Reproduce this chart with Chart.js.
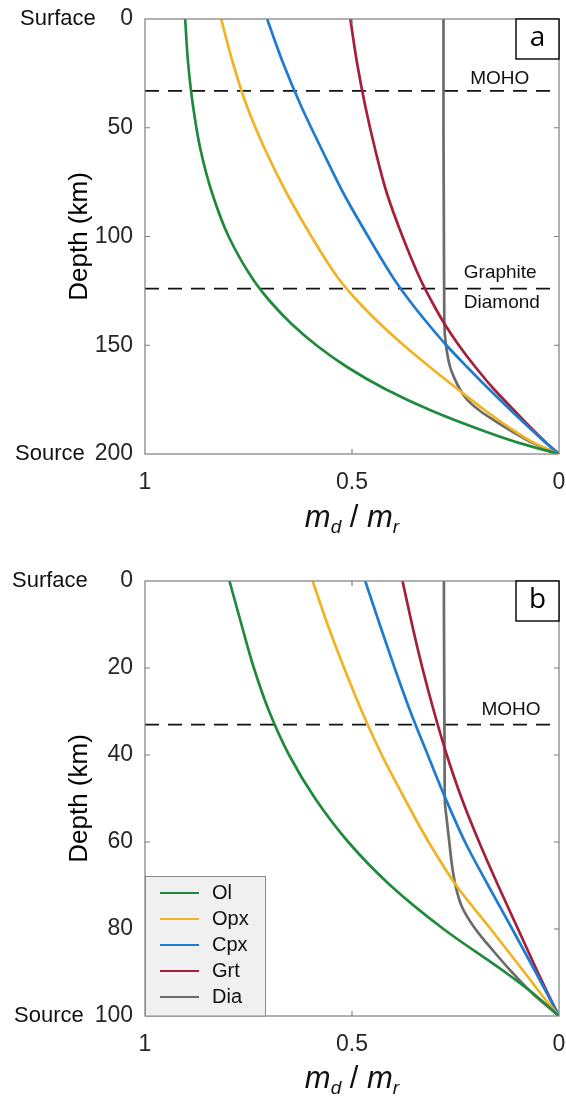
<!DOCTYPE html>
<html>
<head>
<meta charset="utf-8">
<script src="https://cdn.jsdelivr.net/npm/chart.js@4/dist/chart.umd.min.js"></script>
<style>
  html, body { margin: 0; padding: 0; background: #fff; }
  canvas { display: block; }
</style>
</head>
<body>
<canvas id="chartA" width="566" height="560"></canvas>
<canvas id="chartB" width="566" height="537"></canvas>
<script>
// ---- panel a: depth 0-200 km ----
var depthA = [0, 20, 40, 60, 80, 100, 120, 130, 140, 150, 160, 170, 180, 190, 195, 200];
var olA  = [0.903, 0.896, 0.884, 0.866, 0.838, 0.798, 0.738, 0.697, 0.647, 0.586, 0.512, 0.421, 0.309, 0.173, 0.095, 0];
var opxA = [0.816, 0.788, 0.754, 0.710, 0.658, 0.598, 0.530, 0.485, 0.433, 0.375, 0.312, 0.246, 0.178, 0.103, 0.059, 0];
var cpxA = [0.705, 0.667, 0.623, 0.573, 0.521, 0.461, 0.397, 0.359, 0.317, 0.272, 0.222, 0.170, 0.116, 0.060, 0.031, 0];
var grtA = [0.504, 0.488, 0.468, 0.444, 0.416, 0.378, 0.334, 0.307, 0.277, 0.242, 0.202, 0.158, 0.108, 0.057, 0.030, 0];
var diaDepthA = [0, 50, 100, 140, 150, 160, 165, 170, 175, 180, 185, 190, 195, 200];
var diaA      = [0.279, 0.279, 0.278, 0.277, 0.273, 0.263, 0.253, 0.240, 0.222, 0.192, 0.153, 0.110, 0.063, 0];

// ---- panel b: depth 0-100 km ----
var depthB = [0, 10, 20, 30, 40, 50, 60, 70, 80, 90, 95, 100];
var olB  = [0.796, 0.767, 0.737, 0.700, 0.652, 0.589, 0.509, 0.407, 0.279, 0.129, 0.060, 0];
var opxB = [0.595, 0.559, 0.519, 0.476, 0.428, 0.373, 0.315, 0.248, 0.165, 0.083, 0.043, 0];
var cpxB = [0.468, 0.433, 0.397, 0.359, 0.317, 0.274, 0.227, 0.171, 0.113, 0.056, 0.028, 0];
var grtB = [0.378, 0.355, 0.330, 0.302, 0.271, 0.235, 0.193, 0.147, 0.099, 0.051, 0.026, 0];
var diaDepthB = [0, 50, 55, 60, 65, 70, 75, 80, 85, 90, 95, 100];
var diaB      = [0.278, 0.276, 0.271, 0.265, 0.259, 0.250, 0.234, 0.202, 0.159, 0.113, 0.062, 0];

var mineralNames = ['Ol', 'Opx', 'Cpx', 'Grt', 'Dia'];
var mineralColors = ['#1f8a3c', '#efb324', '#1f7bcf', '#a51f3a', '#6b6b6b'];
var xTickLabels = { 0: '0', 0.5: '0.5', 1: '1' };

var mohoDepth = 33;
var graphiteDepth = 124;

var FONT = '"Liberation Sans", Arial, sans-serif';

function pairs(xs, ys) {
  return xs.map(function(v, i) { return { x: v, y: ys[i] }; });
}

function curve(i, depths, vals) {
  return {
    label: mineralNames[i],
    data: pairs(vals, depths),
    borderColor: mineralColors[i],
    backgroundColor: mineralColors[i],
    borderWidth: 2.7,
    pointRadius: 0,
    cubicInterpolationMode: 'monotone',
    fill: false
  };
}

function dashed(depth) {
  return {
    label: '_hline',
    data: [{ x: 1, y: depth }, { x: 0, y: depth }],
    borderColor: '#111',
    borderWidth: 1.7,
    borderDash: [14, 9],
    pointRadius: 0,
    tension: 0,
    fill: false
  };
}

// 框線、內側刻度、標題、註記與圖例
var decorPlugin = {
  id: 'decor',
  afterDraw: function(chart, args, o) {
    var ctx = chart.ctx, a = chart.chartArea;
    var xs = chart.scales.x, ys = chart.scales.y;
    ctx.save();

    ctx.strokeStyle = '#7d7d7d';
    ctx.lineWidth = 1.2;
    ctx.strokeRect(a.left, a.top, a.right - a.left, a.bottom - a.top);
    ctx.beginPath();
    ys.ticks.forEach(function(t) {
      if (t.value === ys.min || t.value === ys.max) return;
      var y = ys.getPixelForValue(t.value);
      ctx.moveTo(a.left, y); ctx.lineTo(a.left + 5, y);
      ctx.moveTo(a.right, y); ctx.lineTo(a.right - 5, y);
    });
    xs.ticks.forEach(function(t) {
      if (t.value === xs.min || t.value === xs.max) return;
      var x = xs.getPixelForValue(t.value);
      ctx.moveTo(x, a.top); ctx.lineTo(x, a.top + 5);
      ctx.moveTo(x, a.bottom); ctx.lineTo(x, a.bottom - 5);
    });
    ctx.stroke();

    // Surface / Source
    ctx.fillStyle = '#111';
    ctx.font = '22px ' + FONT;
    ctx.textAlign = 'left';
    ctx.textBaseline = 'middle';
    ctx.fillText('Surface', o.surfaceX, ys.getPixelForValue(ys.min));
    ctx.fillText('Source', o.sourceX, ys.getPixelForValue(ys.max));

    // y title
    ctx.save();
    ctx.translate(80, (a.top + a.bottom) / 2);
    ctx.rotate(-Math.PI / 2);
    ctx.textAlign = 'center';
    ctx.font = '26px ' + FONT;
    ctx.fillStyle = '#000';
    ctx.fillText('Depth (km)', 0, 0);
    ctx.restore();

    // x title m_d / m_r
    var base = a.bottom + o.titleGap;
    var big = 'italic 31px ' + FONT, small = 'italic 19px ' + FONT;
    var parts = [['m', big, 0], ['d', small, 6], [' / ', '31px ' + FONT, 0], ['m', big, 0], ['r', small, 6]];
    var w = 0;
    parts.forEach(function(p) { ctx.font = p[1]; w += ctx.measureText(p[0]).width; });
    var cx = (a.left + a.right) / 2 - w / 2;
    ctx.textAlign = 'left';
    ctx.textBaseline = 'alphabetic';
    parts.forEach(function(p) {
      ctx.font = p[1];
      ctx.fillText(p[0], cx, base + p[2]);
      cx += ctx.measureText(p[0]).width;
    });

    // panel tag
    ctx.fillStyle = '#fff';
    ctx.fillRect(a.right - 43, a.top, 43, 40);
    ctx.strokeStyle = '#000';
    ctx.lineWidth = 1.4;
    ctx.strokeRect(a.right - 43, a.top, 43, 40);
    ctx.fillStyle = '#000';
    ctx.font = '28px "Open Sans", sans-serif';
    ctx.textAlign = 'center';
    ctx.textBaseline = 'middle';
    ctx.fillText(o.tag, a.right - 21.5, a.top + 19);

    // notes
    ctx.fillStyle = '#111';
    o.notes.forEach(function(n) {
      ctx.font = n.size + 'px ' + FONT;
      ctx.fillText(n.text, xs.getPixelForValue(n.x), ys.getPixelForValue(n.y));
    });

    // legend
    if (o.legend) {
      var lx = a.left, ly = a.bottom - 140;
      ctx.fillStyle = '#f0f0f0';
      ctx.fillRect(lx, ly, 120, 140);
      ctx.strokeStyle = '#8a8a8a';
      ctx.lineWidth = 1;
      ctx.strokeRect(lx + 0.5, ly + 0.5, 120, 139.5);
      ctx.font = '20px ' + FONT;
      ctx.textAlign = 'left';
      chart.data.datasets.forEach(function(ds, i) {
        if (ds.label === '_hline') return;
        var y = ly + 17 + i * 26;
        ctx.strokeStyle = ds.borderColor;
        ctx.lineWidth = 2;
        ctx.beginPath();
        ctx.moveTo(lx + 15, y); ctx.lineTo(lx + 54, y);
        ctx.stroke();
        ctx.fillStyle = '#111';
        ctx.fillText(ds.label, lx + 67, y);
      });
    }
    ctx.restore();
  }
};

function makeChart(id, datasets, maxDepth, step, axisH, decor) {
  return new Chart(document.getElementById(id), {
    type: 'line',
    data: { datasets: datasets },
    plugins: [decorPlugin],
    options: {
      indexAxis: 'y',
      responsive: false,
      animation: false,
      layout: { padding: { top: decor.top, right: 7, left: 0, bottom: 0 } },
      plugins: { legend: { display: false }, tooltip: { enabled: false }, decor: decor },
      scales: {
        x: {
          type: 'linear', position: 'bottom', min: 0, max: 1, reverse: true,
          afterFit: function(s) { s.height = axisH; s.paddingLeft = 0; s.paddingRight = 0; },
          grid: { display: false, drawTicks: false },
          border: { display: false },
          ticks: {
            stepSize: 0.5, padding: 15, color: '#262626', font: { size: 23, family: FONT },
            callback: function(v) { return xTickLabels[v]; }
          }
        },
        y: {
          type: 'linear', position: 'left', min: 0, max: maxDepth, reverse: true,
          afterFit: function(s) { s.width = 145; s.paddingTop = 0; s.paddingBottom = 0; },
          grid: { display: false, drawTicks: false },
          border: { display: false },
          ticks: { stepSize: step, padding: 12, color: '#262626', font: { size: 23, family: FONT } }
        }
      }
    }
  });
}

makeChart('chartA', [
  curve(0, depthA, olA), curve(1, depthA, opxA), curve(2, depthA, cpxA),
  curve(3, depthA, grtA), curve(4, diaDepthA, diaA),
  dashed(mohoDepth), dashed(graphiteDepth)
], 200, 50, 106, {
  top: 19, tag: 'a', surfaceX: 20, sourceX: 15, titleGap: 73, legend: false,
  notes: [
    { text: 'MOHO', x: 0.143, y: 27.5, size: 19 },
    { text: 'Graphite', x: 0.142, y: 116.8, size: 19 },
    { text: 'Diamond', x: 0.138, y: 130.6, size: 19 }
  ]
});

makeChart('chartB', [
  curve(0, depthB, olB), curve(1, depthB, opxB), curve(2, depthB, cpxB),
  curve(3, depthB, grtB), curve(4, diaDepthB, diaB),
  dashed(mohoDepth)
], 100, 20, 81, {
  top: 21, tag: 'b', surfaceX: 12, sourceX: 14, titleGap: 72, legend: true,
  notes: [
    { text: 'MOHO', x: 0.116, y: 29.6, size: 19 }
  ]
});
</script>
</body>
</html>
